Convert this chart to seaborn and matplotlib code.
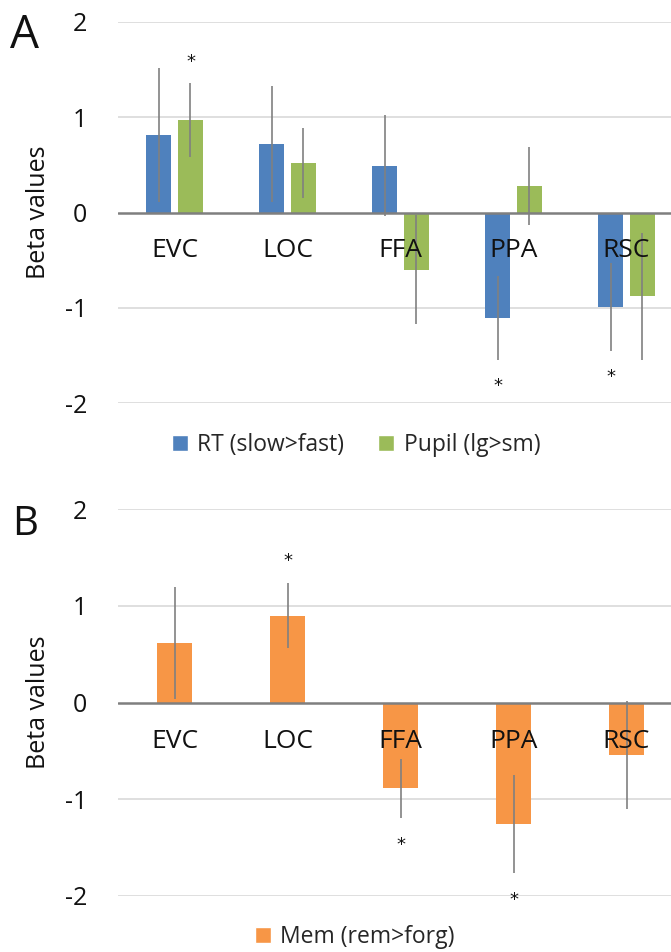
import matplotlib
matplotlib.use("Agg")
import matplotlib.pyplot as plt
import seaborn as sns
import pandas as pd
import numpy as np
from matplotlib.patches import Patch

regions = ["EVC", "LOC", "FFA", "PPA", "RSC"]

rt_vals = [0.81, 0.72, 0.49, -1.11, -0.99]
rt_err = [0.70, 0.61, 0.53, 0.44, 0.46]
pupil_vals = [0.97, 0.52, -0.60, 0.28, -0.88]
pupil_err = [0.385, 0.37, 0.57, 0.41, 0.67]
rt_sig = [False, False, False, True, True]
pupil_sig = [True, False, False, False, False]

mem_vals = [0.62, 0.90, -0.89, -1.26, -0.54]
mem_err = [0.58, 0.34, 0.31, 0.51, 0.56]
mem_sig = [False, True, True, True, False]

series_a = ["RT (slow>fast)", "Pupil (lg>sm)"]
series_b = ["Mem (rem>forg)"]
yticks = [-2, -1, 0, 1, 2]

c_blue = "#4F81BD"
c_green = "#9BBB59"
c_orange = "#F79646"

sns.set_theme(style="white")
plt.rcParams["font.family"] = ["Open Sans", "DejaVu Sans"]

fig = plt.figure(figsize=(6.71, 9.52), dpi=100)
W, H = 671, 952

def make_ax(left_px, top_px, right_px, bottom_px):
    return fig.add_axes([left_px / W, 1 - bottom_px / H,
                         (right_px - left_px) / W, (bottom_px - top_px) / H])

axA = make_ax(118, 21.7, 683, 403.3)
axB = make_ax(118, 509.3, 683, 895.7)

dfA = pd.DataFrame({
    "region": regions * 2,
    "value": rt_vals + pupil_vals,
    "err": rt_err + pupil_err,
    "sig": rt_sig + pupil_sig,
    "series": [series_a[0]] * 5 + [series_a[1]] * 5,
})
dfB = pd.DataFrame({
    "region": regions,
    "value": mem_vals,
    "err": mem_err,
    "sig": mem_sig,
    "series": series_b * 5,
})

sns.barplot(data=dfA, x="region", y="value", hue="series", order=regions,
            hue_order=series_a, palette=[c_blue, c_green], width=0.566, gap=0.22,
            saturation=1, errorbar=None, ax=axA, legend=False, linewidth=0, zorder=2)
sns.barplot(data=dfB, x="region", y="value", hue="series", order=regions,
            palette=[c_orange], width=0.31, saturation=1,
            errorbar=None, ax=axB, legend=False, linewidth=0, zorder=2)

def decorate(ax, df, hue_order, star_off):
    ax.set_ylim(-2, 2)
    ax.set_xlim(-0.5, len(regions) - 0.5)
    ax.set_yticks(yticks)
    ax.set_yticklabels([str(t) for t in yticks], fontsize=18, color="#111111")
    ax.tick_params(axis="y", length=0, pad=22)
    ax.set_xticks([])
    ax.set_xlabel("")
    ax.set_ylabel("Beta values", fontsize=18, color="#111111", labelpad=10)
    for s in ax.spines.values():
        s.set_visible(False)
    for t in yticks:
        if t != 0:
            ax.axhline(t, color="#D9D9D9", lw=1.2, zorder=0)
    ax.axhline(0, color="#7F7F7F", lw=1.8, zorder=3)
    bars = [p for p in ax.patches]
    rows = []
    for s in hue_order:
        sub = df[df["series"] == s].set_index("region").loc[regions]
        rows.extend(sub.itertuples())
    for p, r in zip(bars, rows):
        xc = p.get_x() + p.get_width() / 2
        ax.vlines(xc, r.value - r.err, r.value + r.err, color="#808080", lw=1.2, zorder=4)
        if r.sig:
            if r.value >= 0:
                ax.text(xc, r.value + r.err + star_off, "*", ha="center", va="center",
                        fontsize=13, color="#111111", family="DejaVu Sans", zorder=5)
            else:
                ax.text(xc, r.value - r.err - star_off - 0.05, "*", ha="center", va="center",
                        fontsize=13, color="#111111", family="DejaVu Sans", zorder=5)
    for i, reg in enumerate(regions):
        ax.text(i, -0.40, reg, ha="center", va="center", fontsize=19,
                color="#111111", zorder=6)

decorate(axA, dfA, series_a, 0.22)
decorate(axB, dfB, series_b, 0.22)

fig.text(10 / W, 1 - 36 / H, "A", fontsize=33, va="center", ha="left", color="#111111")
fig.text(12 / W, 1 - 525 / H, "B", fontsize=29, va="center", ha="left", color="#111111")

hA = [Patch(facecolor=c_blue, label=series_a[0]), Patch(facecolor=c_green, label=series_a[1])]
fig.legend(handles=hA, loc="center", bbox_to_anchor=(356 / W, 1 - 445 / H), ncol=2,
           frameon=False, fontsize=16.5, handlelength=0.7, handleheight=0.7,
           handletextpad=0.4, columnspacing=1.5)
hB = [Patch(facecolor=c_orange, label=series_b[0])]
fig.legend(handles=hB, loc="center", bbox_to_anchor=(355 / W, 1 - 937 / H), ncol=1,
           frameon=False, fontsize=16.5, handlelength=0.7, handleheight=0.7,
           handletextpad=0.4)

fig.savefig("out.png", dpi=100, facecolor="white")
